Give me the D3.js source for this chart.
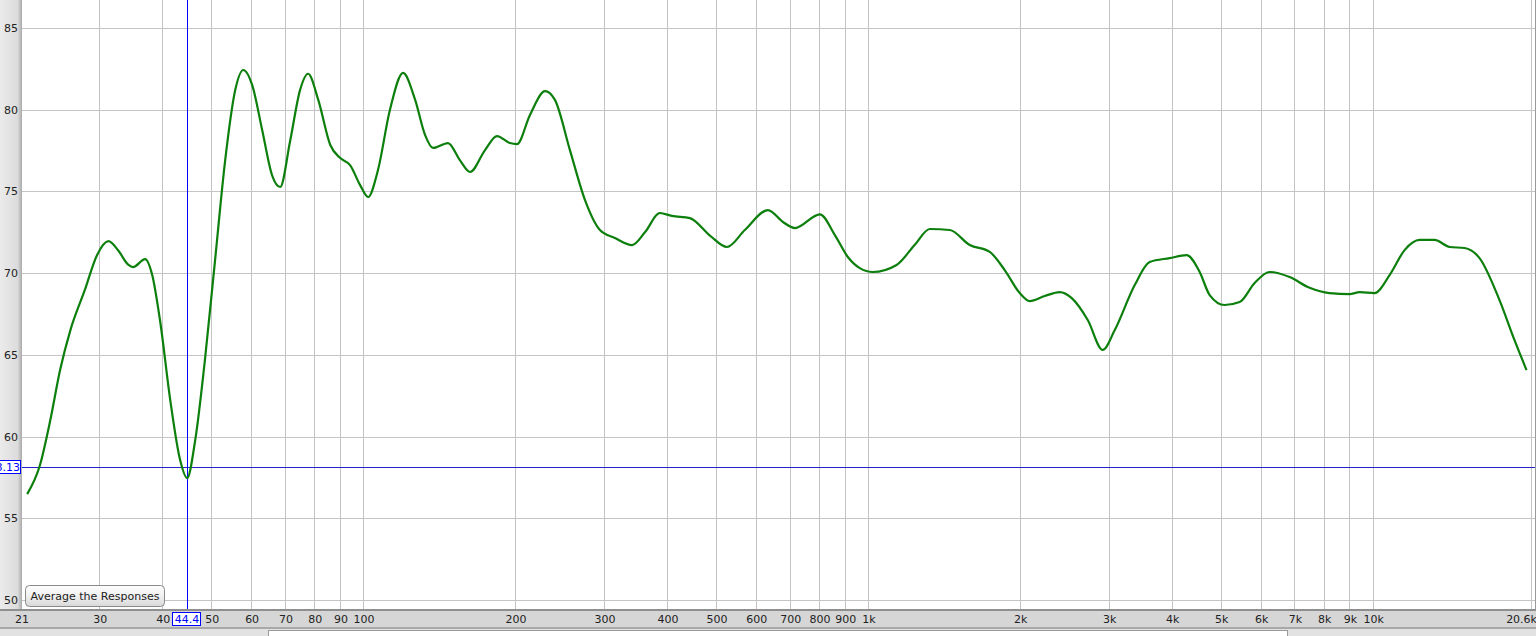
<!DOCTYPE html>
<html><head><meta charset="utf-8">
<script src="https://cdn.jsdelivr.net/npm/d3@7"></script>
<style>body{margin:0;background:#dcdcdc;overflow:hidden}svg{display:block}text{font-family:"DejaVu Sans",sans-serif;font-size:11px;fill:#222}</style>
</head><body><svg id="c" width="1536" height="636"></svg>
<script>
const freqs = [21.6,22.9,24.0,25.1,26.3,28.1,29.7,31.3,32.7,34.3,35.0,37.0,38.2,39.6,41.5,43.4,44.8,46.5,48.6,50.9,53.3,55.8,57.9,60.3,63.1,66.0,68.5,71.7,75.0,77.8,81.5,86.1,90.1,94.3,98.6,102.3,107,113,120,126.8,132.7,137.6,147.3,155.6,162.9,174.4,184.2,195.4,201.8,214.1,229.3,239.9,256.9,275.2,294.6,315.5,341,361.7,387.3,409,444,486.6,525.8,570.6,634,678.9,716.9,803.5,860.4,912.8,963.9,1023,1140,1238,1327,1453,1592,1744,1867,2000,2093,2241,2400,2535,2727,2920,3083,3379,3617,3963,4282,4544,4756,5093,5452,5840,6252,6849,7504,8219,9005,9425,10093,10807,11572,12391,13271,14213,15210,16290,17843,19108,20184];
const spl = [56.48,58.26,61.0,64.07,66.5,68.97,71.1,71.96,71.4,70.5,70.37,70.86,69.9,67.1,62.2,58.56,57.46,59.8,64.7,70.8,76.9,81.2,82.43,81.5,78.76,76.0,75.27,78.1,81.2,82.2,80.6,77.84,77.04,76.6,75.4,74.66,76.3,79.98,82.25,80.6,78.45,77.66,77.96,76.9,76.19,77.53,78.39,77.96,77.9,79.68,81.14,80.6,77.53,74.47,72.64,72.15,71.72,72.5,73.68,73.5,73.37,72.3,71.6,72.64,73.86,73.13,72.76,73.6,72.33,70.99,70.31,70.07,70.5,71.72,72.7,72.64,71.72,71.3,70.19,68.78,68.29,68.6,68.84,68.47,67.13,65.3,66.5,69.27,70.68,70.92,71.1,70.07,68.66,68.05,68.23,69.4,70.07,69.76,69.1,68.78,68.72,68.84,68.78,69.88,71.41,72.03,72.03,71.6,71.54,70.92,68.35,65.9,64.07];
const xTicks = [21,30,40,50,60,70,80,90,100,200,300,400,500,600,700,800,900,1000,2000,3000,4000,5000,6000,7000,8000,9000,10000,20600];
const xTickLabels = ["21","30","40","50","60","70","80","90","100","200","300","400","500","600","700","800","900","1k","2k","3k","4k","5k","6k","7k","8k","9k","10k","20.6k"];
const yTicks = [50,55,60,65,70,75,80,85];
const cursorFreq = 44.4, cursorLabel = "44.4";
const cursorLevel = 58.13, cursorLevelLabel = "58.13";
const buttonLabel = "Average the Responses";

const svg = d3.select("#c");
const x = d3.scaleLog().domain([21,20600]).range([21,1531]);
const y = d3.scaleLinear().domain([50,85]).range([600,28]);
const L=22, R=1535, T=0, B=609;

const defs = svg.append("defs");
const lg = defs.append("linearGradient").attr("id","lp").attr("x1",0).attr("x2",1).attr("y1",0).attr("y2",0);
lg.append("stop").attr("offset","0").attr("stop-color","#ebebeb");
lg.append("stop").attr("offset","0.8").attr("stop-color","#dcdcdc");
lg.append("stop").attr("offset","1").attr("stop-color","#a9a9a9");
const bg = defs.append("linearGradient").attr("id","btn").attr("x1",0).attr("x2",0).attr("y1",0).attr("y2",1);
bg.append("stop").attr("offset","0").attr("stop-color","#fdfdfd");
bg.append("stop").attr("offset","0.5").attr("stop-color","#f0f0f0");
bg.append("stop").attr("offset","1").attr("stop-color","#d8d8d8");
defs.append("clipPath").attr("id","pc").append("rect").attr("x",L).attr("y",T).attr("width",R-L).attr("height",B-T);

svg.append("rect").attr("width",1536).attr("height",636).attr("fill","#dadada");
svg.append("rect").attr("x",0).attr("y",0).attr("width",L).attr("height",B).attr("fill","url(#lp)");
svg.append("rect").attr("x",0).attr("y",B).attr("width",1536).attr("height",2).attr("fill","#8f8f8f");
svg.append("rect").attr("x",0).attr("y",B+2).attr("width",1536).attr("height",16).attr("fill","#d6d6d6");
svg.append("rect").attr("x",0).attr("y",627).attr("width",1536).attr("height",2).attr("fill","#a8a8a8");
svg.append("rect").attr("x",0).attr("y",629).attr("width",1536).attr("height",7).attr("fill","#e2e2e2");
svg.append("rect").attr("x",268.5).attr("y",630.5).attr("width",1019).attr("height",10).attr("fill","#fff").attr("stroke","#9a9a9a");

svg.append("rect").attr("x",L).attr("y",T).attr("width",R-L).attr("height",B-T).attr("fill","#fff");
svg.append("line").attr("x1",R+0.5).attr("x2",R+0.5).attr("y1",0).attr("y2",B).attr("stroke","#9a9a9a");

const g = svg.append("g").attr("clip-path","url(#pc)");
g.selectAll(".vg").data(xTicks).join("line")
  .attr("x1",d=>Math.round(x(d))+0.5).attr("x2",d=>Math.round(x(d))+0.5)
  .attr("y1",T).attr("y2",B).attr("stroke","#c4c4c4");
g.selectAll(".hg").data(yTicks).join("line")
  .attr("x1",L).attr("x2",R).attr("y1",d=>Math.round(y(d))+0.5).attr("y2",d=>Math.round(y(d))+0.5)
  .attr("stroke","#c4c4c4");

const cx = Math.round(x(cursorFreq))+2;
const cy = Math.round(y(cursorLevel));
g.append("line").attr("x1",L).attr("x2",R).attr("y1",cy+0.5).attr("y2",cy+0.5).attr("stroke","#2323c8");
g.append("line").attr("x1",cx+0.5).attr("x2",cx+0.5).attr("y1",T).attr("y2",B).attr("stroke","#0000ff");

const data = freqs.map((f,i)=>[f,spl[i]]);
g.append("path").datum(data)
  .attr("d",d3.line().x(d=>x(d[0])).y(d=>y(d[1])).curve(d3.curveMonotoneX))
  .attr("fill","none").attr("stroke","#0c7f0c").attr("stroke-width",2.2).attr("stroke-linejoin","round");

svg.selectAll(".yl").data(yTicks).join("text")
  .attr("x",18).attr("y",d=>y(d)+4).attr("text-anchor","end").text(d=>d);
svg.selectAll(".xl").data(xTicks).join("text")
  .attr("x",(d,i)=> i===xTicks.length-1 ? 1537 : x(d)+1)
  .attr("y",623).attr("text-anchor",(d,i)=> i===xTicks.length-1 ? "end" : "middle")
  .text((d,i)=>xTickLabels[i]);

svg.append("rect").attr("x",cx-14.5).attr("y",612.5).attr("width",28).attr("height",13).attr("fill","#fff").attr("stroke","#0000ff");
svg.append("text").attr("x",cx).attr("y",623).attr("text-anchor","middle").style("fill","#0000ff").text(cursorLabel);
svg.append("rect").attr("x",-12.5).attr("y",cy-6.5).attr("width",33).attr("height",13).attr("fill","#fff").attr("stroke","#0000ff");
svg.append("text").attr("x",20).attr("y",cy+4).attr("text-anchor","end").style("fill","#0000ff").text(cursorLevelLabel);

svg.append("rect").attr("x",25.5).attr("y",585.5).attr("width",139).attr("height",21).attr("rx",4)
  .attr("fill","url(#btn)").attr("stroke","#8a8a8a");
svg.append("text").attr("x",95).attr("y",600).attr("text-anchor","middle").style("font-size","11px").text(buttonLabel);
</script></body></html>
